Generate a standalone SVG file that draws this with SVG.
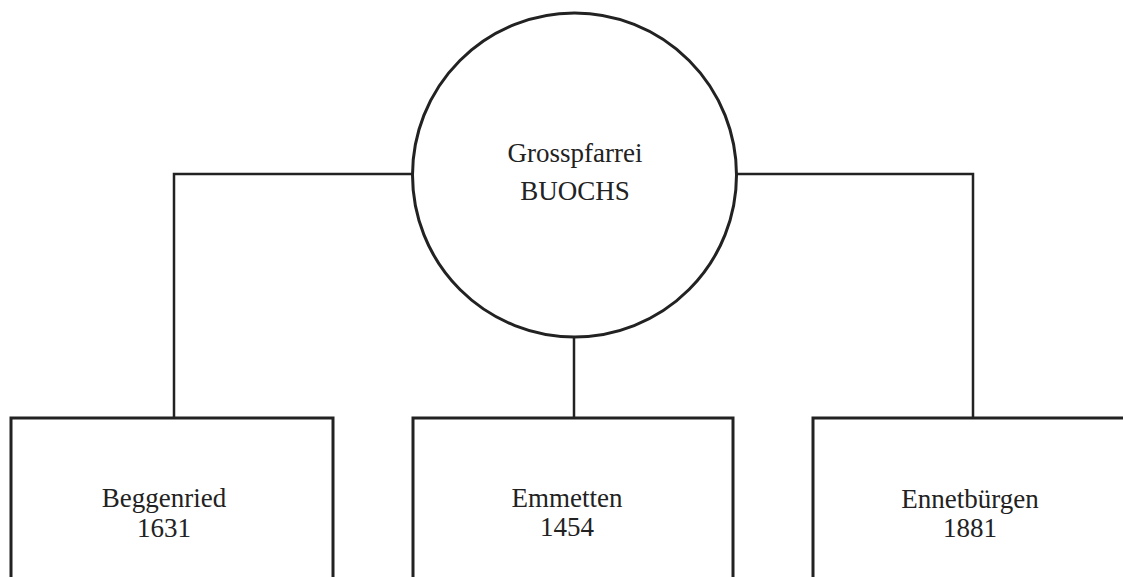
<svg xmlns="http://www.w3.org/2000/svg" width="1123" height="577" viewBox="0 0 1123 577">
<style>
.ln{fill:none;stroke:#222;stroke-width:2.5;stroke-linejoin:miter}
.bx{fill:#fff;stroke:#222;stroke-width:3}
.t{font-family:"Liberation Serif","Times New Roman",serif;font-size:27px;fill:#222;text-anchor:middle}
</style>
<rect width="1123" height="577" fill="#fff"/>
<g id="connectors">
<polyline class="ln" points="412,174 174,174 174,418"/>
<polyline class="ln" points="737,174 973,174 973,418"/>
<line class="ln" x1="574" y1="337" x2="574" y2="418"/>
</g>
<g id="buochs">
<circle class="bx" cx="574.5" cy="175" r="162"/>
<text class="t" x="575" y="162">Grosspfarrei</text>
<text class="t" x="575" y="200">BUOCHS</text>
</g>
<g id="beggenried">
<rect class="bx" x="11" y="418" width="322" height="180"/>
<text class="t" x="164" y="507">Beggenried</text>
<text class="t" x="164" y="537">1631</text>
</g>
<g id="emmetten">
<rect class="bx" x="413" y="418" width="320" height="180"/>
<text class="t" x="567" y="507">Emmetten</text>
<text class="t" x="567" y="536">1454</text>
</g>
<g id="ennetbuergen">
<rect class="bx" x="813" y="418" width="330" height="180"/>
<text class="t" x="970" y="508">Ennetbürgen</text>
<text class="t" x="970" y="537">1881</text>
</g>
</svg>
